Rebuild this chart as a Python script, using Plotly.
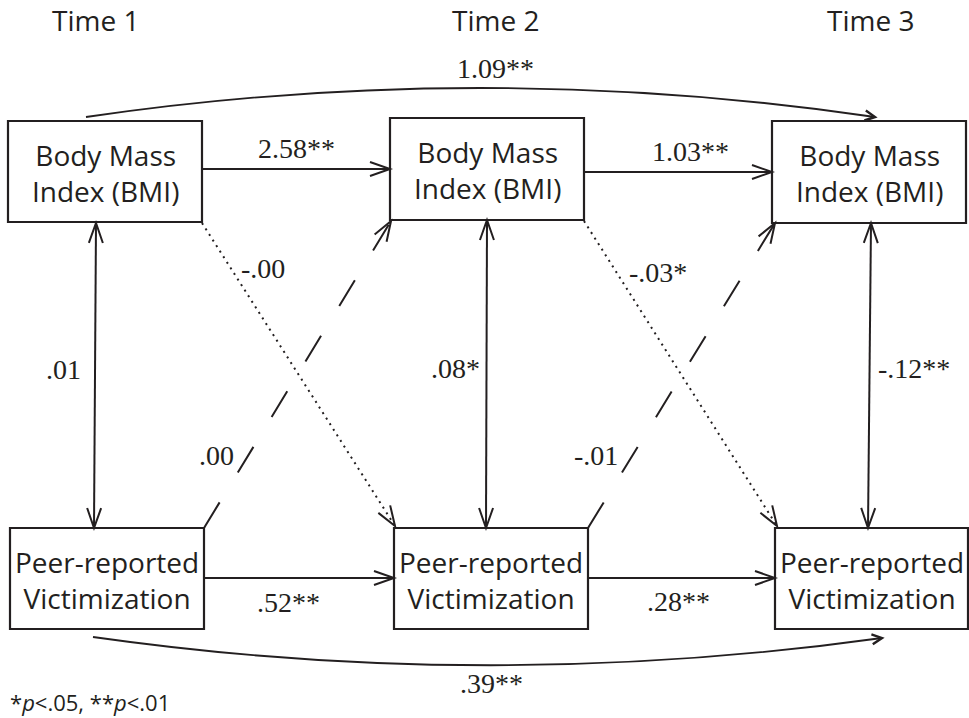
import math
import plotly.graph_objects as go

# ---------------- data ----------------
times = ["Time 1", "Time 2", "Time 3"]
construct_labels = ["Body Mass<br>Index (BMI)", "Peer-reported<br>Victimization"]
bmi_stability = ["2.58**", "1.03**"]          # BMI t -> BMI t+1
vict_stability = [".52**", ".28**"]           # Victimization t -> t+1
bmi_to_vict = ["-.00", "-.03*"]               # BMI t -> Victimization t+1 (dotted)
vict_to_bmi = [".00", "-.01"]                 # Victimization t -> BMI t+1 (dashed)
within_time_cov = [".01", ".08*", "-.12**"]   # within-time associations
bmi_t1_t3 = "1.09**"
vict_t1_t3 = ".39**"
note = "*<i>p</i>&lt;.05, **<i>p</i>&lt;.01"

# ---------------- layout geometry (pixels) ----------------
W, H = 969, 718
INK = "#231f20"
SANS = "Open Sans"
SERIF = "Liberation Serif"

bmi_boxes = [(8, 121, 202, 222), (390, 118, 584, 220), (772, 121, 966, 223)]
vict_boxes = [(10, 528, 204, 629), (394, 528, 588, 629), (775, 528, 968, 629)]
time_pos = [(95, 20), (495, 20), (870, 20)]
bmi_h_arrows = [((202, 169), (390, 169)), ((584, 172), (772, 172))]
vict_h_arrows = [((204, 578), (394, 578)), ((588, 578), (775, 578))]
dotted_arrows = [((202, 223), (395, 526)), ((584, 221), (777, 526))]
dashed_arrows = [((204, 528), (391, 221)), ((588, 528), (775, 223))]
vert_arrows = [((96, 223), (94, 528)), ((487, 220), (486, 528)), ((871, 223), (868, 528))]
top_curve = ((86, 117), (480, 59), (875, 117))
bot_curve = ((93, 637), (487, 693), (882, 638))

bmi_stab_pos = [(296, 148), (690, 151)]
vict_stab_pos = [(288, 602), (678, 601)]
b2v_pos = [(263, 268), (658, 272)]
v2b_pos = [(216, 455), (596, 455)]
cov_pos = [(63, 369), (455, 368), (914, 368)]
bmi13_pos = (495, 68)
vict13_pos = (491, 683)
note_pos = (8, 702)

shapes = []
annotations = []


def line(p0, p1, dash="solid", width=2):
    shapes.append(dict(type="line", x0=p0[0], y0=p0[1], x1=p1[0], y1=p1[1],
                       xref="x", yref="y", line=dict(color=INK, width=width, dash=dash)))


def head(tip, frm, length=20, half=7, width=2):
    dx, dy = tip[0] - frm[0], tip[1] - frm[1]
    d = math.hypot(dx, dy)
    ux, uy = dx / d, dy / d
    bx, by = tip[0] - ux * length, tip[1] - uy * length
    nx, ny = -uy, ux
    w1 = (bx + nx * half, by + ny * half)
    w2 = (bx - nx * half, by - ny * half)
    shapes.append(dict(type="path", xref="x", yref="y",
                       path=f"M {w1[0]},{w1[1]} L {tip[0]},{tip[1]} L {w2[0]},{w2[1]}",
                       line=dict(color=INK, width=width)))


def arrow(p0, p1, dash="solid", both=False):
    line(p0, p1, dash=dash)
    head(p1, p0)
    if both:
        head(p0, p1)


def label(text, pos, font=SERIF, size=28, xanchor="center"):
    annotations.append(dict(text=text, x=pos[0], y=pos[1], xref="x", yref="y",
                            showarrow=False, xanchor=xanchor, yanchor="middle",
                            font=dict(family=font, size=size, color=INK)))


# boxes
for boxes, text in zip([bmi_boxes, vict_boxes], construct_labels):
    for (x0, y0, x1, y1) in boxes:
        shapes.append(dict(type="rect", x0=x0, y0=y0, x1=x1, y1=y1, xref="x", yref="y",
                           line=dict(color=INK, width=2.2), fillcolor="white", layer="above"))
        label(text, ((x0 + x1) / 2, (y0 + y1) / 2 + 1), font=SANS, size=28)

# time headers
for t, pos in zip(times, time_pos):
    label(t, pos, font=SANS, size=28)

# arrows
for p0, p1 in bmi_h_arrows + vict_h_arrows:
    arrow(p0, p1)
for p0, p1 in vert_arrows:
    arrow(p0, p1, both=True)
for p0, p1 in dotted_arrows:
    arrow(p0, p1, dash="2px,4.6px")
for p0, p1 in dashed_arrows:
    arrow(p0, p1, dash="30px,35px")

# long-range curved arrows
for (s, c, e) in [top_curve, bot_curve]:
    shapes.append(dict(type="path", xref="x", yref="y",
                       path=f"M {s[0]},{s[1]} Q {c[0]},{c[1]} {e[0]},{e[1]}",
                       line=dict(color=INK, width=1.8)))
    head(e, c, length=10, half=5, width=2.4)

# coefficients
for t, p in zip(bmi_stability, bmi_stab_pos):
    label(t, p)
for t, p in zip(vict_stability, vict_stab_pos):
    label(t, p)
for t, p in zip(bmi_to_vict, b2v_pos):
    label(t, p)
for t, p in zip(vict_to_bmi, v2b_pos):
    label(t, p)
for t, p in zip(within_time_cov, cov_pos):
    label(t, p)
label(bmi_t1_t3, bmi13_pos)
label(vict_t1_t3, vict13_pos)
label(note, note_pos, font=SANS, size=22, xanchor="left")

fig = go.Figure()
fig.add_trace(go.Scatter(x=[0, W], y=[0, H], mode="markers",
                         marker=dict(opacity=0), hoverinfo="skip", showlegend=False))
fig.update_layout(
    width=W, height=H, margin=dict(l=0, r=0, t=0, b=0),
    paper_bgcolor="white", plot_bgcolor="white",
    xaxis=dict(range=[0, W], visible=False, fixedrange=True),
    yaxis=dict(range=[H, 0], visible=False, fixedrange=True),
    shapes=shapes, annotations=annotations, showlegend=False,
)
fig.write_html("out.html", config={"displayModeBar": False},
               post_script="document.body.style.margin='0';document.body.style.overflow='hidden';")
